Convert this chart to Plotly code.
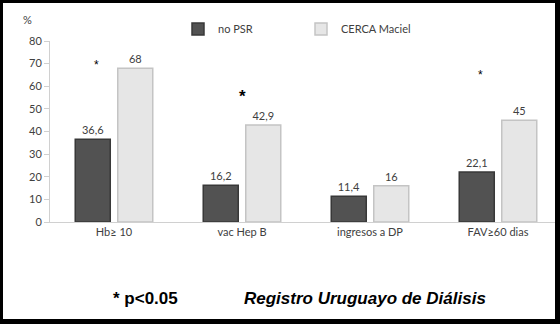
import plotly.graph_objects as go

categories = ["Hb≥ 10", "vac Hep B", "ingresos a DP", "FAV≥60 dias"]
no_psr = [36.6, 16.2, 11.4, 22.1]
cerca = [68, 42.9, 16, 45]
y_ticks = [0, 10, 20, 30, 40, 50, 60, 70, 80]
# significance markers: (category index, offset, y value, bold)
stars = [(0, -0.14, 70.7, False), (1, 0.0, 56.6, True), (3, -0.14, 66.3, False)]

def fmt(v):
    return f"{v:g}".replace(".", ",")

W, H = 560, 324
L, R, T, B = 50, 5, 41, 102
pw, ph = W - L - R, H - T - B

def px(x):
    return (x - L) / pw

def py(y):
    return (H - B - y) / ph

FONT = "Lato, 'Open Sans', sans-serif"
TXT = "#404040"

fig = go.Figure()
fig.add_trace(go.Bar(
    x=categories, y=no_psr, name="no PSR", legend="legend", showlegend=True,
    marker=dict(color="#525252", line=dict(color="#383838", width=1.5)),
    text=[fmt(v) for v in no_psr], textposition="outside",
    textfont=dict(size=11, color=TXT, family=FONT), cliponaxis=False,
))
fig.add_trace(go.Bar(
    x=categories, y=cerca, name="CERCA Maciel", legend="legend2", showlegend=True,
    marker=dict(color="#e6e6e6", line=dict(color="#c4c4c4", width=1.5)),
    text=[fmt(v) for v in cerca], textposition="outside",
    textfont=dict(size=11, color=TXT, family=FONT), cliponaxis=False,
))

annotations = []
for idx, off, yv, bold in stars:
    annotations.append(dict(
        x=idx + off, y=yv, xref="x", yref="y", showarrow=False,
        text="<b>*</b>" if bold else "*",
        font=dict(size=17 if bold else 12, color="black", family="Liberation Sans, Arial"),
        yshift=-3,
    ))
annotations.append(dict(x=px(27), y=py(19), xref="paper", yref="paper",
                        showarrow=False, text="%", xanchor="center", yanchor="middle",
                        font=dict(size=11, color=TXT, family=FONT)))
annotations.append(dict(x=px(111), y=py(298), xref="paper", yref="paper",
                        showarrow=False, text="<b>* p<0.05</b>", xanchor="left", yanchor="middle",
                        font=dict(size=17, color="black", family="Liberation Sans, Arial")))
annotations.append(dict(x=px(242), y=py(298), xref="paper", yref="paper",
                        showarrow=False, text="<b><i>Registro Uruguayo de Diálisis</i></b>",
                        xanchor="left", yanchor="middle",
                        font=dict(size=17, color="black", family="Liberation Sans, Arial")))

fig.update_layout(
    width=W, height=H,
    margin=dict(l=L, r=R, t=T, b=B, pad=0, autoexpand=False),
    paper_bgcolor="black", plot_bgcolor="white",
    barmode="group", bargap=0.336, bargroupgap=0.176,
    showlegend=True,
    font=dict(family=FONT, color=TXT, size=11),
    shapes=[dict(type="rect", xref="paper", yref="paper",
                 x0=px(3), x1=px(555), y0=py(319), y1=py(3),
                 fillcolor="white", line=dict(width=0), layer="below")],
    annotations=annotations,
    xaxis=dict(range=[-0.5, -0.5 + pw / 128], showgrid=False, showline=True,
               linecolor="#d0d0d0", linewidth=1, ticks="", tickfont=dict(size=11, color=TXT),
               zeroline=False),
    yaxis=dict(range=[0, 80], tickvals=y_ticks, showgrid=False, showline=True,
               linecolor="#d0d0d0", linewidth=1, ticks="outside", ticklen=5,
               tickcolor="#d0d0d0", tickfont=dict(size=11, color=TXT), zeroline=False),
    legend=dict(xref="container", yref="container", x=178 / W, y=1 - 29 / H,
                xanchor="left", yanchor="middle", orientation="h", visible=True,
                bgcolor="rgba(0,0,0,0)", font=dict(size=11, color=TXT), itemwidth=30),
    legend2=dict(xref="container", yref="container", x=301 / W, y=1 - 29 / H,
                 xanchor="left", yanchor="middle", orientation="h", visible=True,
                 bgcolor="rgba(0,0,0,0)", font=dict(size=11, color=TXT), itemwidth=30),
)

fig.write_html("out.html")
